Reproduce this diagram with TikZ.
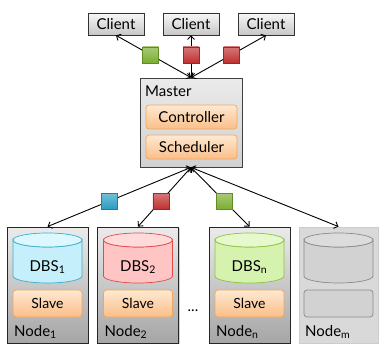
\documentclass[tikz,border=0pt]{standalone}
\usepackage{fontspec}
\setmainfont{Lato}
\usetikzlibrary{arrows.meta,shadows}
\definecolor{orbord}{HTML}{F2A55E}
\definecolor{ortop}{HTML}{FEE9D2}
\definecolor{orbot}{HTML}{FBBE88}
\definecolor{cyb}{HTML}{3AAECF}
\definecolor{cybody}{HTML}{C4EFFB}
\definecolor{cytop}{HTML}{DDF7FF}
\definecolor{rdb}{HTML}{E04A4A}
\definecolor{rdbody}{HTML}{FFC4C4}
\definecolor{rdtop}{HTML}{FFDADA}
\definecolor{grb}{HTML}{8CC43C}
\definecolor{grbody}{HTML}{D5F2AE}
\definecolor{grtop}{HTML}{E6F9CC}
\definecolor{gyb}{HTML}{8A8A8A}
\definecolor{gybody}{HTML}{D2D2D2}
\definecolor{gytop}{HTML}{DCDCDC}
\definecolor{sqgreen2}{HTML}{7AAE30}
\definecolor{sqred2}{HTML}{C03030}
\definecolor{sqblue2}{HTML}{2A9CC0}
% \dbdraw{name}{center x}{border}{body}{top}
\newcommand{\dbdraw}[5]{%
  \coordinate (#1) at (#2,258);
  \path[draw=#3,fill=#4,line width=0.7pt]
    ([xshift=-34.5pt,yshift=18pt]#1) -- ([xshift=-34.5pt,yshift=-18pt]#1)
    arc[start angle=180,end angle=0,x radius=34.5,y radius=7]
    -- ([xshift=34.5pt,yshift=18pt]#1)
    arc[start angle=0,end angle=180,x radius=34.5,y radius=7] -- cycle;
  \path[draw=#3,fill=#5,line width=0.7pt] ([yshift=18pt]#1) ellipse[x radius=34.5,y radius=7];
}
\begin{document}
\begin{tikzpicture}[x=1pt,y=-1pt,
  font=\fontsize{15}{17}\selectfont,
  shad/.style={drop shadow={opacity=0.35,shadow xshift=1.2pt,shadow yshift=-1.2pt}},
  client/.style={draw=black!80,line width=0.7pt,top color=black!3,bottom color=black!22,
    minimum width=56pt,minimum height=22pt,inner sep=0pt,shad},
  masterbox/.style={draw=black!75,line width=0.8pt,top color=black!8,bottom color=black!18,
    minimum width=102pt,minimum height=89pt,inner sep=0pt,shad},
  orangebox/.style={draw=orbord,line width=0.7pt,rounded corners=3pt,top color=ortop,bottom color=orbot,
    minimum width=91pt,minimum height=24pt,inner sep=0pt},
  slavebox/.style={orangebox,minimum width=69pt,minimum height=27pt,font=\fontsize{14}{16}\selectfont},
  nodebox/.style={draw=black!85,line width=0.8pt,top color=black!8,bottom color=black!35,
    minimum width=81pt,minimum height=116pt,inner sep=0pt,shad},
  conn/.style={line width=0.9pt,{Straight Barb[length=3.5pt,width=7pt]}-{Straight Barb[length=3.5pt,width=7pt]}},
  sq/.style={minimum size=16pt,inner sep=0pt,top color=#1!65!white,bottom color=#1,draw=#1!80!black,line width=0.3pt},
  lbl/.style={anchor=west,inner sep=0pt}
]
\useasboundingbox (0,0) rectangle (380,345);

% clients
\node[client] (c1) at (116,24) {Client};
\node[client] (c2) at (191,24) {Client};
\node[client] (c3) at (266,24) {Client};

% master
\node[masterbox] (m) at (191,122.5) {};
\node[lbl] (mlab) at (145,91) {Master};
\node[orangebox] (ctrl) at (191.5,117) {Controller};
\node[orangebox] (sched) at (191.5,147) {Scheduler};

% worker nodes
\node[nodebox] (n1) at (47.5,285) {};
\node[nodebox] (n2) at (138,285) {};
\node[nodebox] (nn) at (249.5,285) {};
\node[draw=black!20,line width=0.8pt,fill=black!15,minimum width=79pt,minimum height=116pt,inner sep=0pt] (nm) at (338.5,285) {};

% databases
\dbdraw{d1}{47.5}{cyb}{cybody}{cytop}
\dbdraw{d2}{138}{rdb}{rdbody}{rdtop}
\dbdraw{dn}{249.5}{grb}{grbody}{grtop}
\dbdraw{dm}{338.5}{gyb}{gybody}{gytop}
\node (t1) at (47.5,267) {DBS\textsubscript{1}};
\node (t2) at (138,267) {DBS\textsubscript{2}};
\node (tn) at (249.5,267) {DBS\textsubscript{n}};

% slaves
\node[slavebox] (s1) at (47.5,303.5) {Slave};
\node[slavebox] (s2) at (138,303.5) {Slave};
\node[slavebox] (sn) at (249.5,303.5) {Slave};
\node[draw=gyb,line width=0.7pt,rounded corners=3pt,fill=gybody,minimum width=69pt,minimum height=27pt,inner sep=0pt] (sm) at (338.5,303.5) {};

% node labels
\node[lbl] (l1) at (14,332) {Node\textsubscript{1}};
\node[lbl] (l2) at (104.5,332) {Node\textsubscript{2}};
\node[lbl] (ln) at (216,332) {Node\textsubscript{n}};
\node[lbl] (lm) at (305,332) {Node\textsubscript{m}};

\node (dots) at (193,311) {...};

% connectors
\draw[conn] (m.north) -- node[sq=sqgreen2,pos=0.54] (q1) {} (c1.south);
\draw[conn] (m.north) -- node[sq=sqred2,pos=0.54] (q2) {} (c2.south);
\draw[conn] (m.north) -- node[sq=sqred2,pos=0.54] (q3) {} (c3.south);
\draw[conn] (m.south) -- node[sq=sqblue2,pos=0.57] (q4) {} (n1.north);
\draw[conn] (m.south) -- node[sq=sqred2,pos=0.57] (q5) {} (n2.north);
\draw[conn] (m.south) -- node[sq=sqgreen2,pos=0.57] (q6) {} (nn.north);
\draw[conn] (m.south) -- (nm.north);
\end{tikzpicture}
\end{document}
